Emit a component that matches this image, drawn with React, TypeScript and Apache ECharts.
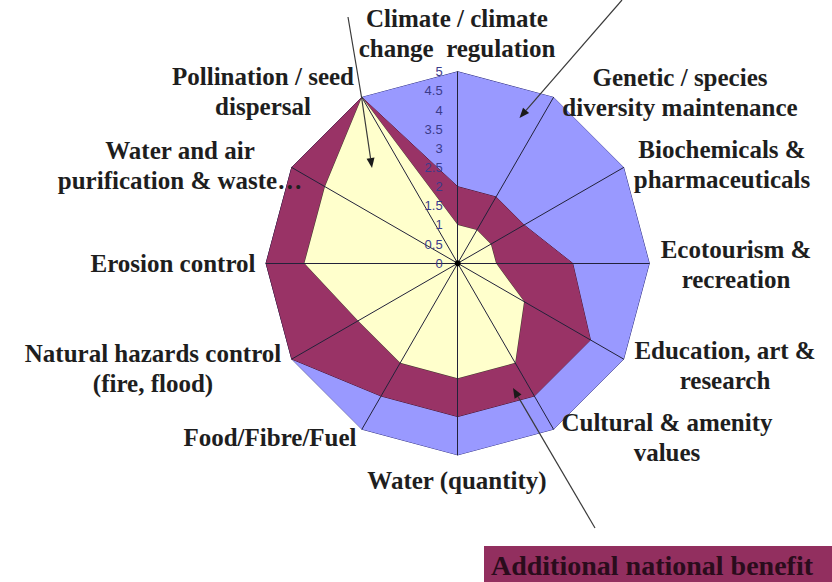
import { useEffect, useRef } from 'react';
import * as echarts from 'echarts';

// Ecosystem services, listed clockwise starting from the top axis
const services: string[] = [
  'Climate / climate\nchange  regulation',
  'Genetic / species\ndiversity maintenance',
  'Biochemicals &\npharmaceuticals',
  'Ecotourism &\nrecreation',
  'Education, art &\nresearch',
  'Cultural & amenity\nvalues',
  'Water (quantity)',
  'Food/Fibre/Fuel',
  'Natural hazards control\n(fire, flood)',
  'Erosion control',
  'Water and air\npurification & waste…',
  'Pollination / seed\ndispersal',
];

// Benefit scores (0–5) per service, same clockwise order
const globalBenefit: number[] = [5, 5, 5, 5, 5, 5, 5, 5, 5, 5, 5, 5];
const nationalBenefit: number[] = [2, 2, 2, 3, 4, 4, 4, 4, 5, 5, 5, 5];
const localBenefit: number[] = [1, 1, 1, 1, 2, 3, 3, 3, 3, 4, 4, 5];

const scaleMin = 0;
const scaleMax = 5;
const scaleSplits = 10;

const legendLabel = 'Additional national benefit';

// ---- layout ----
const CX = 457.7;
const CY = 263.3;
const R = 191.6;

// centre of each service label block (same order as services)
const labelAnchors: [number, number][] = [
  [457, 33],
  [680, 92],
  [722, 164],
  [736, 264],
  [725, 365],
  [667, 437],
  [457, 480],
  [270, 437],
  [153, 368],
  [173, 263],
  [180, 165],
  [263, 91],
];

// annotation arrows (polyline points, arrowhead at the last point)
const arrowPaths: [number, number][][] = [
  [[348, 17], [361.5, 97], [372, 168]],
  [[622, 0], [519.5, 118]],
  [[595, 528], [513, 388]],
];

const SERIF = '"Liberation Serif", "Times New Roman", serif';

// ECharts lays radar indicators out counter-clockwise, so reorder
const toRadarOrder = <T,>(arr: T[]): T[] => [arr[0], ...arr.slice(1).reverse()];

function arrowGraphics(points: [number, number][]) {
  const n = points.length;
  const [tx, ty] = points[n - 1];
  const [px, py] = points[n - 2];
  const len = Math.hypot(tx - px, ty - py);
  const ux = (tx - px) / len;
  const uy = (ty - py) / len;
  const headLen = 10;
  const headHalf = 4;
  const bx = tx - ux * headLen;
  const by = ty - uy * headLen;
  const shaft = points.slice(0, n - 1).concat([[bx, by]]);
  return [
    {
      type: 'polyline',
      silent: true,
      z: 20,
      shape: { points: shaft },
      style: { stroke: '#3a3a3a', lineWidth: 1.2, fill: null },
    },
    {
      type: 'polygon',
      silent: true,
      z: 20,
      shape: {
        points: [
          [tx, ty],
          [bx - uy * headHalf, by + ux * headHalf],
          [bx + uy * headHalf, by - ux * headHalf],
        ],
      },
      style: { fill: '#1a1a1a' },
    },
  ];
}

export default function App() {
  const ref = useRef<HTMLDivElement>(null);

  useEffect(() => {
    if (!ref.current) return;
    const chart = echarts.init(ref.current, undefined, { renderer: 'svg' });

    const names = toRadarOrder(services);
    const indicator = names.map((name, k) => ({
      name,
      min: scaleMin,
      max: scaleMax,
      ...(k === 0
        ? {
            axisLabel: {
              show: true,
              color: '#3b3b8a',
              fontSize: 13,
              fontFamily: '"Liberation Sans", Arial, sans-serif',
              margin: 15,
            },
          }
        : {}),
    }));

    const labelTexts = services.map((name, i) => ({
      type: 'text',
      silent: true,
      z: 10,
      x: labelAnchors[i][0],
      y: labelAnchors[i][1],
      style: {
        text: name,
        fill: '#1e1e1e',
        fontFamily: SERIF,
        fontWeight: 'bold',
        fontSize: 25,
        lineHeight: 30,
        align: 'center',
        verticalAlign: 'middle',
      },
    }));

    const option: any = {
      animation: false,
      backgroundColor: '#ffffff',
      radar: {
        center: [CX, CY],
        radius: R,
        startAngle: 90,
        splitNumber: scaleSplits,
        shape: 'polygon',
        z: 5,
        axisName: { show: false },
        axisLine: { lineStyle: { color: '#22223a', width: 1 } },
        axisTick: { show: false },
        axisLabel: { show: false },
        splitLine: { show: false },
        splitArea: { show: false },
        indicator,
      },
      series: [
        {
          type: 'radar',
          symbol: 'none',
          z: 2,
          data: [
            {
              name: 'Global benefit',
              value: toRadarOrder(globalBenefit),
              areaStyle: { color: '#9999ff', opacity: 1 },
              lineStyle: { color: '#2e2e80', width: 1 },
            },
            {
              name: legendLabel,
              value: toRadarOrder(nationalBenefit),
              areaStyle: { color: '#993366', opacity: 1 },
              lineStyle: { color: '#4a1630', width: 1 },
            },
            {
              name: 'Local benefit',
              value: toRadarOrder(localBenefit),
              areaStyle: { color: '#ffffcc', opacity: 1 },
              lineStyle: { color: '#3d3d2a', width: 1 },
            },
          ],
        },
      ],
      graphic: [
        ...labelTexts,
        {
          type: 'circle',
          silent: true,
          z: 12,
          shape: { cx: CX, cy: CY, r: 3 },
          style: { fill: '#000000' },
        },
        ...arrowPaths.flatMap((p) => arrowGraphics(p)),
        {
          type: 'rect',
          silent: true,
          z: 10,
          shape: { x: 484, y: 546, width: 348, height: 36 },
          style: { fill: '#922f5f' },
        },
        {
          type: 'text',
          silent: true,
          z: 11,
          x: 652,
          y: 565,
          style: {
            text: legendLabel,
            fill: '#2a0c1c',
            fontFamily: SERIF,
            fontWeight: 'bold',
            fontSize: 28,
            align: 'center',
            verticalAlign: 'middle',
          },
        },
      ],
    };

    chart.setOption(option);
    return () => chart.dispose();
  }, []);

  return (
    <div
      ref={ref}
      style={{
        position: 'fixed',
        left: 0,
        top: 0,
        width: 832,
        height: 582,
        background: '#ffffff',
      }}
    />
  );
}
